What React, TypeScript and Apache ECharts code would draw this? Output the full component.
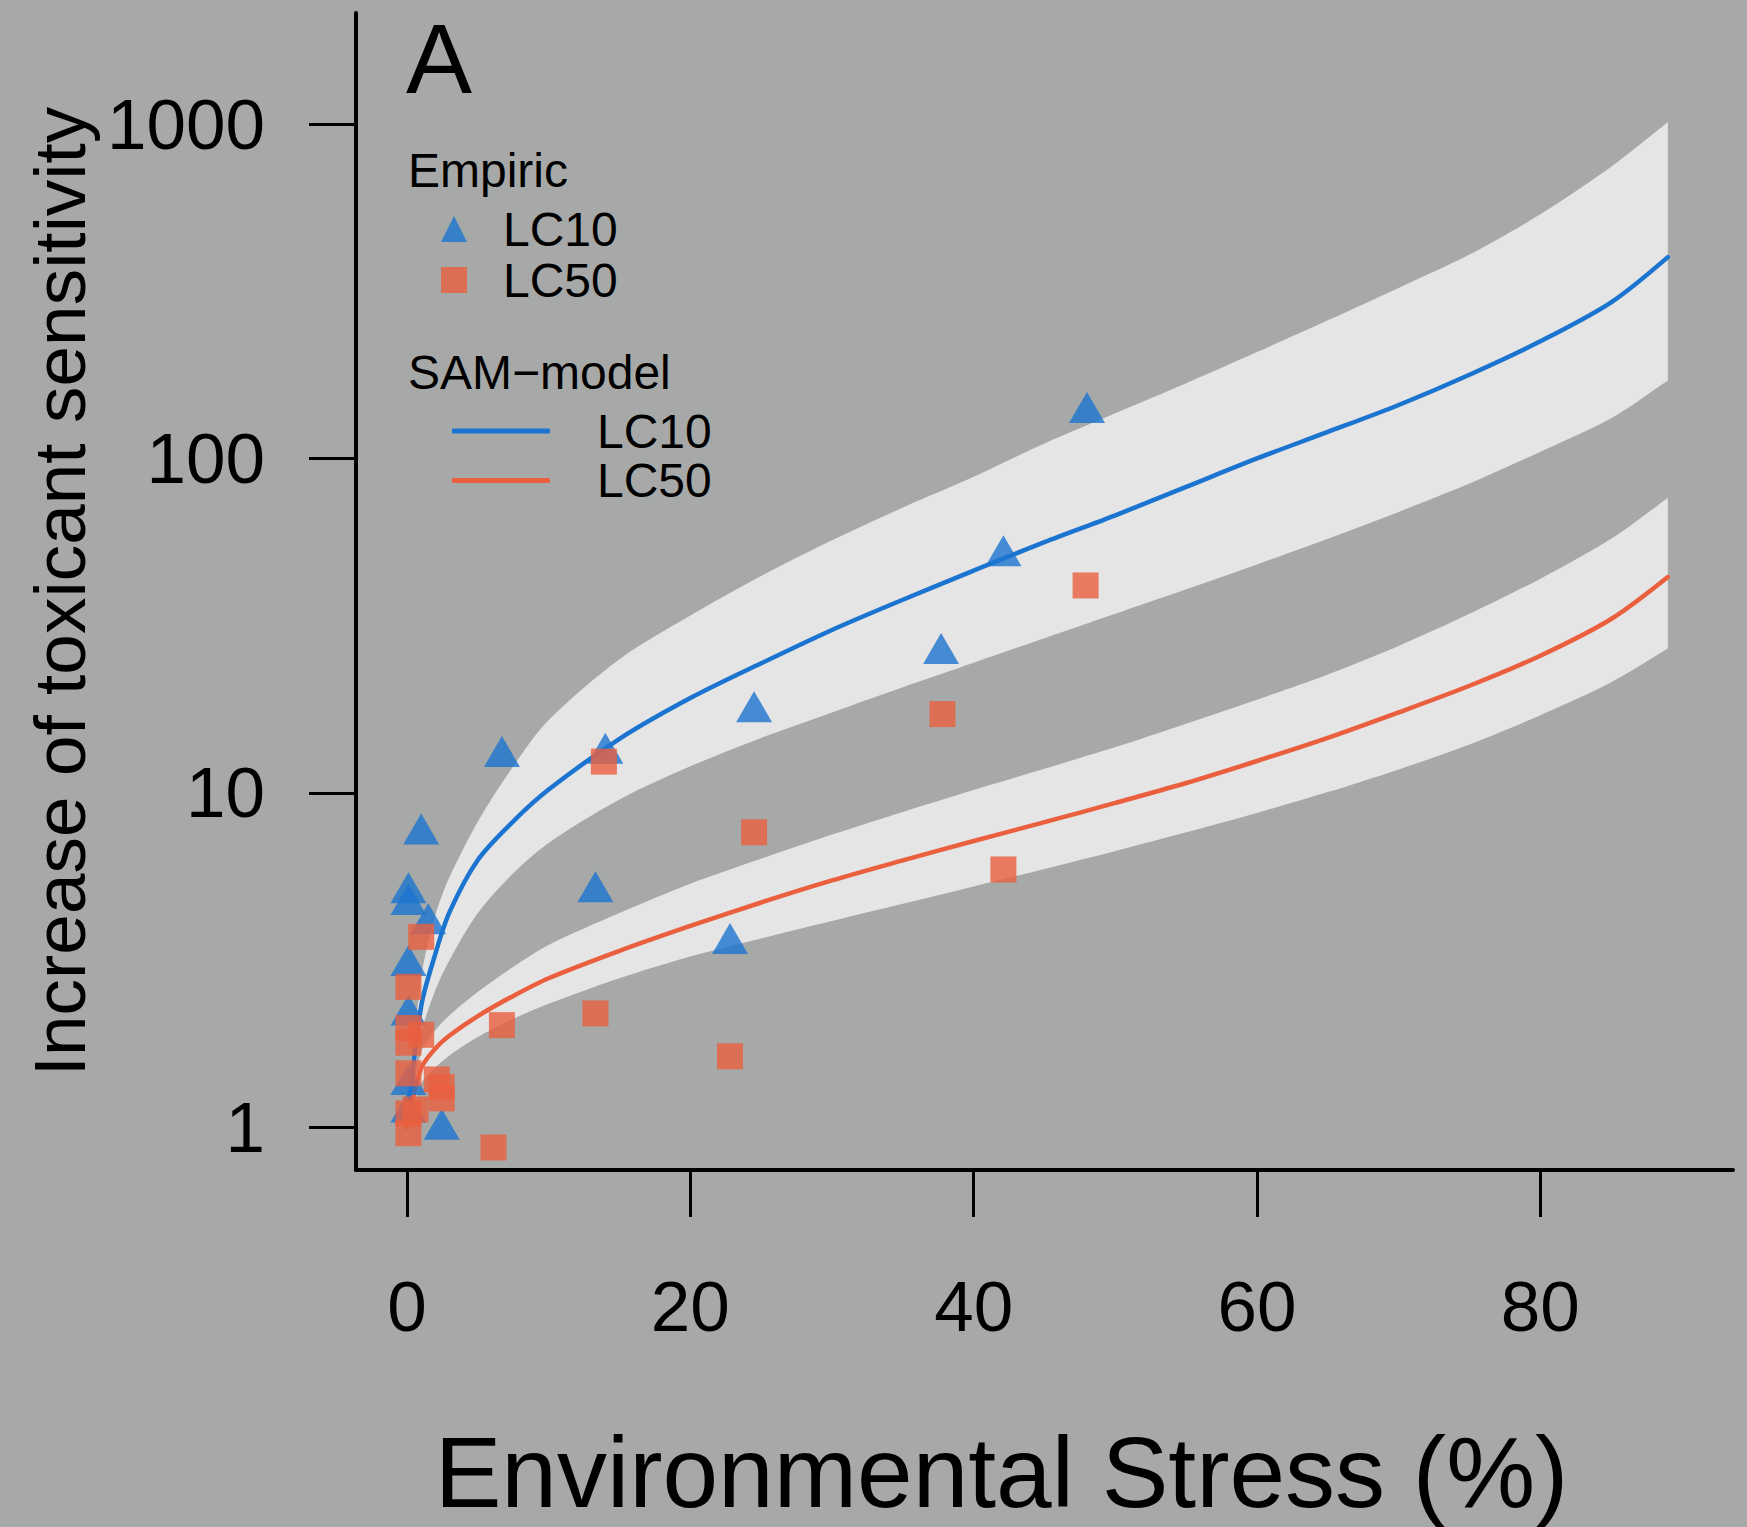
import React, { useEffect, useRef } from 'react';
import * as echarts from 'echarts';

// ---------- axis settings ----------
const X_TICKS = [0, 20, 40, 60, 80];
const Y_TICKS = [1, 10, 100, 1000];
const X_MIN = -3.6;
const X_MAX = 93.6;
const Y_MIN = 0.745;
const Y_MAX = 2148;

// ---------- SAM-model curves ----------
const modelX = [0, 1, 2, 3, 5, 7.5, 10, 15, 20, 25, 30, 35, 40, 45, 50, 55, 60, 65, 70, 75, 80, 85, 89];
const lc10Model = [1, 2.3, 3.3, 4.4, 6.3, 8.22, 10.23, 14.5, 19.2, 24.4, 30.7, 37.8, 46.2, 56.2, 67.6, 82.2, 100, 120, 144.5, 178, 224, 293, 400];
const lc10Upper = [1, 2.8, 4.3, 5.6, 8.2, 12.0, 16.5, 25.1, 33.9, 44.5, 56.9, 71.3, 88.1, 110.9, 136.5, 167.9, 208, 258.8, 323.6, 407, 537, 745, 1012];
const lc10Lower = [1, 1.9, 2.57, 3.16, 4.37, 5.75, 7.08, 9.55, 12.0, 14.6, 17.4, 20.7, 24.5, 29.0, 34.3, 40.6, 48.2, 57.5, 69.2, 84.1, 104.7, 131.8, 171];
const lc50Model = [1, 1.5, 1.72, 1.88, 2.15, 2.47, 2.79, 3.37, 4.0, 4.7, 5.47, 6.28, 7.18, 8.17, 9.33, 10.7, 12.45, 14.6, 17.4, 20.9, 25.7, 33.1, 44.2];
const lc50Upper = [1, 1.68, 1.95, 2.16, 2.54, 3.02, 3.51, 4.37, 5.35, 6.35, 7.5, 8.77, 10.2, 11.8, 13.7, 16.1, 19.0, 22.6, 27.5, 34.3, 43.7, 57.5, 76.2];
const lc50Lower = [1, 1.35, 1.51, 1.64, 1.86, 2.11, 2.34, 2.79, 3.24, 3.67, 4.14, 4.66, 5.25, 5.92, 6.70, 7.62, 8.71, 10.05, 11.75, 13.96, 17.06, 21.4, 27.0];

// ---------- empirical observations [stress %, increase] ----------
const empiricLC10 = [
  [0.1, 5.2], [0.1, 4.8], [1.0, 7.8], [1.5, 4.2], [0.1, 3.15], [0.1, 2.24], [0.1, 1.39], [0.1, 1.15],
  [2.45, 1.02], [6.7, 13.3], [13.3, 5.24], [14.0, 13.6], [24.5, 18.1], [22.8, 3.67], [37.7, 27],
  [42.1, 53], [48.0, 142],
];
const empiricLC50 = [
  [0.1, 2.63], [1.0, 3.71], [0.1, 1.98], [1.0, 1.89], [0.1, 1.79], [6.7, 2.02], [13.3, 2.19],
  [22.8, 1.63], [13.9, 12.4], [24.5, 7.62], [0.1, 1.45], [2.1, 1.39], [2.45, 1.32], [2.45, 1.22],
  [0.1, 1.1], [0.6, 1.13], [0.1, 0.96], [6.1, 0.87], [37.8, 17.2], [42.1, 5.9], [47.9, 41.7],
];

const FONT = '"Liberation Sans", Arial, Helvetica, sans-serif';
const BLUE = '#1b74cf';
const ORANGE = '#ea5f3e';
const BAND = '#e5e5e5';
const BG = '#a6a9a7';
const SMOOTH = 0.3;

function bandSeries(name: string, lower: number[], upper: number[]) {
  return {
    type: 'custom',
    name,
    silent: true,
    z: 1,
    clip: true,
    data: modelX.map((x, i) => [x, lower[i], upper[i]]),
    encode: { x: 0, y: [1, 2] },
    renderItem: (params: any, api: any) => {
      if (params.dataIndex !== 0) return null;
      const top = modelX.map((x, i) => api.coord([x, upper[i]]));
      const bottom = modelX.map((x, i) => api.coord([x, lower[i]])).reverse();
      // corner points repeated so the smoothed outline keeps sharp ends
      const pts = [...top, top[top.length - 1], bottom[0], ...bottom];
      return {
        type: 'polygon',
        shape: { points: pts, smooth: SMOOTH },
        style: { fill: BAND, stroke: null },
      };
    },
  };
}

function lineSeries(name: string, values: number[], color: string) {
  return {
    type: 'line',
    name,
    z: 2,
    symbol: 'none',
    showSymbol: false,
    smooth: SMOOTH,
    clip: true,
    data: modelX.map((x, i) => [x, values[i]]),
    lineStyle: { color, width: 4.5, cap: 'round' },
    itemStyle: { color },
  };
}

export default function App() {
  const ref = useRef<HTMLDivElement>(null);

  useEffect(() => {
    const chart = echarts.init(ref.current as HTMLDivElement, null, { renderer: 'svg' });
    const option: any = {
      animation: false,
      backgroundColor: BG,
      grid: { left: 356, right: 14, top: 13, bottom: 357, containLabel: false, outerBoundsMode: 'none' },
      xAxis: {
        type: 'value',
        min: X_MIN,
        max: X_MAX,
        axisLine: { show: true, onZero: false, lineStyle: { color: '#000', width: 4 } },
        axisTick: { show: true, inside: false, length: 47, customValues: X_TICKS, lineStyle: { color: '#000', width: 3 } },
        axisLabel: { customValues: X_TICKS, fontSize: 71, color: '#000', fontFamily: FONT, margin: 101 },
        splitLine: { show: false },
        name: 'Environmental Stress (%)',
        nameLocation: 'middle',
        nameGap: 252,
        nameTextStyle: { fontSize: 100, color: '#000', fontFamily: FONT, padding: [0, 86, 0, 0] },
      },
      yAxis: {
        type: 'log',
        logBase: 10,
        min: Y_MIN,
        max: Y_MAX,
        axisLine: { show: true, onZero: false, lineStyle: { color: '#000', width: 4 } },
        axisTick: { show: true, inside: false, length: 47, customValues: Y_TICKS, lineStyle: { color: '#000', width: 3 } },
        axisLabel: {
          customValues: Y_TICKS,
          formatter: (v: number) => String(Math.round(v)),
          fontSize: 71,
          color: '#000',
          fontFamily: FONT,
          margin: 91,
        },
        splitLine: { show: false },
        minorTick: { show: false },
        name: 'Increase of toxicant sensitivity',
        nameLocation: 'middle',
        nameGap: 250,
        nameTextStyle: { fontSize: 73, color: '#000', fontFamily: FONT },
      },
      legend: [
        {
          data: ['Empiric LC10', 'Empiric LC50'],
          orient: 'vertical',
          left: 441,
          top: 205,
          padding: 0,
          itemWidth: 26,
          itemHeight: 26,
          itemGap: 3,
          selectedMode: false,
          formatter: (n: string) => n.replace('Empiric ', ''),
          textStyle: { fontSize: 48, color: '#000', fontFamily: FONT, lineHeight: 26, padding: [0, 0, 0, 31] },
        },
        {
          data: [
            { name: 'SAM-model LC10', icon: 'roundRect', itemStyle: { color: BLUE } },
            { name: 'SAM-model LC50', icon: 'roundRect', itemStyle: { color: ORANGE } },
          ],
          orient: 'vertical',
          left: 452,
          top: 407,
          padding: 0,
          itemWidth: 98,
          itemHeight: 5,
          itemGap: 1.5,
          selectedMode: false,
          formatter: (n: string) => n.replace('SAM-model ', ''),
          textStyle: { fontSize: 48, color: '#000', fontFamily: FONT, lineHeight: 14, padding: [0, 0, 0, 42] },
        },
      ],
      graphic: [
        {
          type: 'text',
          x: 406,
          y: 58,
          style: { text: 'A', fontSize: 99, fontFamily: FONT, fill: '#000', align: 'left', verticalAlign: 'middle' },
        },
        {
          type: 'text',
          x: 408,
          y: 170,
          style: { text: 'Empiric', fontSize: 48, fontFamily: FONT, fill: '#000', align: 'left', verticalAlign: 'middle' },
        },
        {
          type: 'text',
          x: 408,
          y: 372,
          style: { text: 'SAM\u2212model', fontSize: 48, fontFamily: FONT, fill: '#000', align: 'left', verticalAlign: 'middle' },
        },
      ],
      series: [
        bandSeries('LC10 band', lc10Lower, lc10Upper),
        bandSeries('LC50 band', lc50Lower, lc50Upper),
        lineSeries('SAM-model LC10', lc10Model, BLUE),
        lineSeries('SAM-model LC50', lc50Model, ORANGE),
        {
          type: 'scatter',
          name: 'Empiric LC10',
          z: 3,
          symbol: 'triangle',
          symbolSize: [36, 31],
          itemStyle: { color: BLUE },
          data: empiricLC10,
        },
        {
          type: 'scatter',
          name: 'Empiric LC50',
          z: 4,
          symbol: 'rect',
          symbolSize: 26,
          itemStyle: { color: ORANGE },
          data: empiricLC50,
        },
      ],
    };
    chart.setOption(option);
    return () => chart.dispose();
  }, []);

  return (
    <div
      ref={ref}
      style={{ position: 'fixed', left: 0, top: 0, width: 1747, height: 1527, background: BG }}
    />
  );
}
